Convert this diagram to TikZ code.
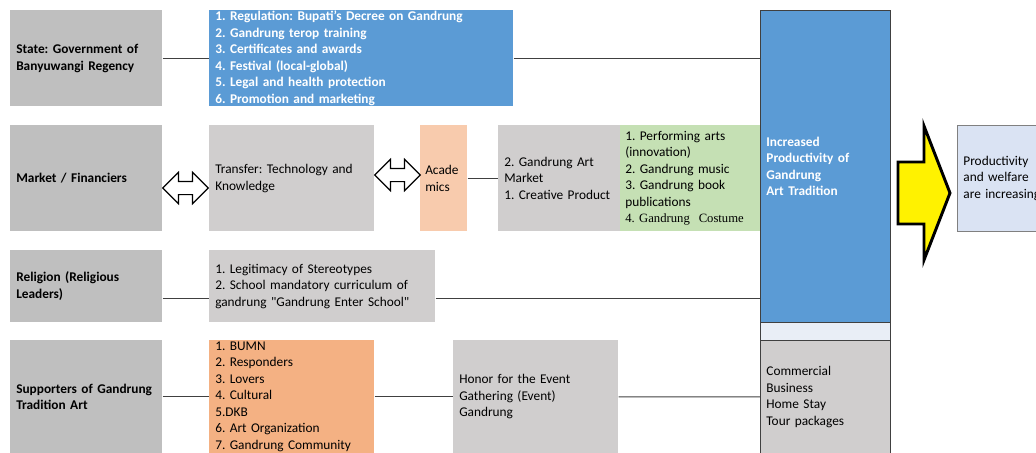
\documentclass[tikz,border=0pt]{standalone}
\usepackage{fontspec}
\setmainfont{Carlito}
\newfontfamily\timesfont{Liberation Serif}
\usepackage{xcolor}
\usepackage{tikz}
\usetikzlibrary{shapes.arrows}
\frenchspacing

\definecolor{actorgray}{HTML}{BFBFBF}
\definecolor{itemgray}{HTML}{D0CECE}
\definecolor{stateblue}{HTML}{5B9BD5}
\definecolor{peach}{HTML}{F8CBAD}
\definecolor{orangefill}{HTML}{F4B183}
\definecolor{greenfill}{HTML}{C5E0B4}
\definecolor{paleblue}{HTML}{DAE3F3}
\definecolor{stripblue}{HTML}{E9EEF6}
\definecolor{linegray}{HTML}{404040}

\tikzset{
  cell/.style={rectangle, anchor=north west, inner xsep=4.5pt, inner ysep=0pt, align=left, font=\fontsize{10}{12.4}\selectfont},
  link/.style={draw=linegray, line width=0.8pt},
  twoway/.style={double arrow, draw=black, fill=white, line width=0.9pt, minimum height=34pt, minimum width=22.5pt, double arrow head extend=6.75pt, inner xsep=0pt, inner ysep=4.5pt},
}

\begin{document}
\begin{tikzpicture}[x=0.75pt,y=-0.75pt]
    \useasboundingbox (0,0) rectangle (1036,453);
    % actors
    \node[cell,fill=actorgray,text width=105pt,minimum height=72pt] (state) at (10,10) {\textbf{State: Government of}\\\textbf{Banyuwangi Regency}};
    \node[cell,fill=actorgray,text width=105pt,minimum height=79.5pt] (market) at (10,125) {\textbf{Market / Financiers}};
    \node[cell,fill=actorgray,text width=105pt,minimum height=54pt] (relig) at (10,250) {\textbf{Religion (Religious}\\\textbf{Leaders)}};
    \node[cell,fill=actorgray,text width=105pt,minimum height=84.75pt] (supp) at (10,340) {\textbf{Supporters of Gandrung}\\\textbf{Tradition Art}};
    % roles
    \node[cell,fill=stateblue,text=white,font=\bfseries\fontsize{10}{12.4}\selectfont,text width=219pt,minimum height=72pt] (blist) at (209,10) {1. Regulation: Bupati's Decree on Gandrung\\2. Gandrung terop training\\3. Certificates and awards\\4. Festival (local-global)\\5. Legal and health protection\\6. Promotion and marketing};
    \node[cell,fill=itemgray,text width=114.75pt,minimum height=79.5pt] (transfer) at (209,125) {Transfer: Technology and\\Knowledge};
    \node[cell,fill=peach,inner xsep=3.75pt,text width=27.75pt,minimum height=79.5pt] (acad) at (420,125) {Acade\\mics};
    \node[cell,fill=itemgray,text width=82.5pt,minimum height=79.5pt] (artm) at (498,125) {2. Gandrung Art\\Market\\1. Creative Product};
    \node[cell,fill=greenfill,inner xsep=3.75pt,text width=97.5pt,minimum height=79.5pt] (prods) at (620,125) {1. Performing arts\\(innovation)\\2. Gandrung music\\3. Gandrung book\\publications\\{\timesfont\fontsize{9.5}{12.4}\selectfont 4. Gandrung\ \ Costume}};
    \node[cell,fill=itemgray,text width=160.5pt,minimum height=54pt] (stereo) at (209,250) {1. Legitimacy of Stereotypes\\2. School mandatory curriculum of\\gandrung \textquotedbl Gandrung Enter School\textquotedbl};
    \node[cell,fill=orangefill,text width=114.75pt,minimum height=84.75pt] (olist) at (209,340) {1. BUMN\\2. Responders\\3. Lovers\\4. Cultural\\5.DKB\\6. Art Organization\\7. Gandrung Community};
    \node[cell,fill=itemgray,text width=114.75pt,minimum height=84.75pt] (honor) at (453,340) {Honor for the Event\\Gathering (Event)\\Gandrung};
    % outcome column
    \node[cell,draw=linegray,line width=0.6pt,fill=stateblue,text=white,font=\bfseries\fontsize{10}{12.4}\selectfont,text width=88.5pt,minimum height=234pt] (col) at (760,10) {Increased\\Productivity of\\Gandrung\\Art Tradition};
    \node[cell,draw=linegray,line width=0.6pt,fill=stripblue,text width=88.5pt,minimum height=13.5pt] (strip) at (760,322) {};
    \node[cell,draw=linegray,line width=0.6pt,fill=itemgray,text width=88.5pt,minimum height=84.75pt] (comm) at (760,340) {Commercial\\Business\\Home Stay\\Tour packages};
    \node[cell,draw=gray,line width=0.6pt,fill=paleblue,text width=66pt,minimum height=79.5pt] (welfare) at (957,125) {Productivity\\and welfare\\are increasing};
    % arrows
    \node[twoway] (tw1) at (185.5,188) {};
    \node[twoway] (tw2) at (397.5,175) {};
    \draw[fill=yellow,draw=black,line width=2.2pt,line join=miter] (898,162) -- (924,162) -- (924,126) -- (950,193) -- (924,260) -- (924,224) -- (898,224) -- cycle;
    % links
    \draw[link] (state) -- (blist);
    \draw[link] (blist.east) -- (blist.east -| col.west);
    \draw[link] (acad) -- (artm);
    \draw[link] ([yshift=-9pt]relig.east) -- ([yshift=-9pt]stereo.west);
    \draw[link] ([yshift=-9pt]stereo.east) -- ([yshift=-9pt]stereo.east -| col.west);
    \draw[link] (supp) -- (olist);
    \draw[link] (olist) -- (honor);
    \draw[link] (honor) -- (comm);
\end{tikzpicture}
\end{document}
